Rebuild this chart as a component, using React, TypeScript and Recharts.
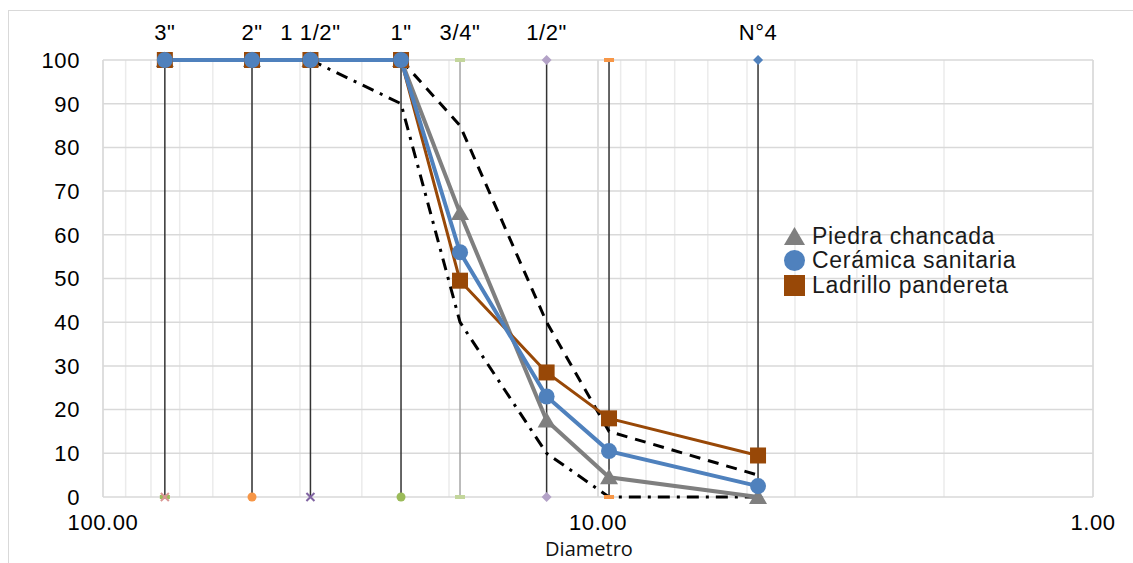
import React from 'react';
import { ComposedChart, Line, XAxis, YAxis, CartesianGrid, ReferenceLine } from 'recharts';

document.body.style.margin = '0';

// tamices (mm)
const sieveNames = ['3"', '2"', '1 1/2"', '1"', '3/4"', '1/2"', '', 'N°4'];
const sieveSizes = [75, 50, 38.1, 25, 19, 12.7, 9.5, 4.75];

// % que pasa
const piedra = [100, 100, 100, 100, 65, 17.5, 4.5, 0];
const ceramica = [100, 100, 100, 100, 56, 23, 10.5, 2.5];
const ladrillo = [100, 100, 100, 100, 49.5, 28.5, 18, 9.5];

// huso granulometrico
const upperSizes = [25, 19, 12.7, 9.5, 4.75];
const upperLimit = [100, 85, 40, 15, 5];
const lowerSizes = [38.1, 25, 19, 12.7, 9.5, 4.75];
const lowerLimit = [100, 90, 40, 10, 0, 0];

const xTicks = [100, 90, 80, 70, 60, 50, 40, 30, 20, 10, 9, 8, 7, 6, 5, 4, 3, 2, 1];
const majorX = [100, 10, 1];
const yTicks = [0, 10, 20, 30, 40, 50, 60, 70, 80, 90, 100];

const COLORS = {
  piedra: '#7f7f7f',
  ceramica: '#4f81bd',
  ladrillo: '#984807',
  grid: '#d9d9d9',
  minor: '#ebebeb',
  text: '#000000',
};

const FONT = '"Liberation Sans", Arial, sans-serif';

// small markers at ends of each sieve line [top, bottom]
const sieveMarks: { top: string[]; bottom: string[]; color: string[]; stroke: string }[] = [
  { top: ['dash'], bottom: ['dash', 'x'], color: ['#9bbb59', '#d99694'], stroke: '#333333' },
  { top: [], bottom: ['circle'], color: ['#f79646'], stroke: '#333333' },
  { top: [], bottom: ['x'], color: ['#8064a2'], stroke: '#333333' },
  { top: [], bottom: ['circle'], color: ['#9bbb59'], stroke: '#333333' },
  { top: ['dash'], bottom: ['dash'], color: ['#c3d69b'], stroke: '#a6a6a6' },
  { top: ['diamond'], bottom: ['diamond'], color: ['#b3a2c7'], stroke: '#333333' },
  { top: ['dash'], bottom: ['dash'], color: ['#f79646'], stroke: '#333333' },
  { top: ['diamond'], bottom: ['diamond'], color: ['#4f81bd'], stroke: '#333333' },
];

const toPoints = (xs: number[], ys: number[]) => xs.map((d, i) => ({ d, v: ys[i] }));

const smallMark = (type: string, color: string, cx: number, cy: number, key: string) => {
  if (type === 'dash') return <rect key={key} x={cx - 5} y={cy - 2} width={10} height={4} fill={color} />;
  if (type === 'circle') return <circle key={key} cx={cx} cy={cy} r={4.5} fill={color} />;
  if (type === 'diamond') return <path key={key} d={`M${cx},${cy - 5}L${cx + 5},${cy}L${cx},${cy + 5}L${cx - 5},${cy}Z`} fill={color} />;
  return (
    <path key={key} d={`M${cx - 4},${cy - 4}L${cx + 4},${cy + 4}M${cx + 4},${cy - 4}L${cx - 4},${cy + 4}`} stroke={color} strokeWidth={2} />
  );
};

const triangle = (p: any) => (
  <path key={`t-${p.index}`} d={`M${p.cx},${p.cy - 8.5}L${p.cx + 9},${p.cy + 7}L${p.cx - 9},${p.cy + 7}Z`} fill={COLORS.piedra} />
);
const circle = (p: any) => <circle key={`c-${p.index}`} cx={p.cx} cy={p.cy} r={8} fill={COLORS.ceramica} />;
const square = (p: any) => (
  <rect key={`s-${p.index}`} x={p.cx - 8} y={p.cy - 8} width={16} height={16} fill={COLORS.ladrillo} />
);

const legendItems = [
  { name: 'Piedra chancada', color: COLORS.piedra, shape: 'triangle' },
  { name: 'Cerámica sanitaria', color: COLORS.ceramica, shape: 'circle' },
  { name: 'Ladrillo pandereta', color: COLORS.ladrillo, shape: 'square' },
];

const LegendBox = () => (
  <div style={{ position: 'absolute', left: 775, top: 213, fontFamily: FONT, fontSize: 23, letterSpacing: 0.7, color: '#1a1a1a' }}>
    {legendItems.map((it) => (
      <div key={it.name} style={{ display: 'flex', alignItems: 'center', height: 24.5 }}>
        <svg width={21} height={21} style={{ marginRight: 7 }}>
          {it.shape === 'triangle' && <path d="M10.5,1L21,19L0,19Z" fill={it.color} />}
          {it.shape === 'circle' && <circle cx={10.5} cy={10.5} r={10.5} fill={it.color} />}
          {it.shape === 'square' && <rect x={0} y={0} width={21} height={21} fill={it.color} />}
        </svg>
        <span>{it.name}</span>
      </div>
    ))}
  </div>
);

export default function App() {
  return (
    <div style={{ width: 1133, height: 563, overflow: 'hidden', position: 'relative', background: '#fff' }}>
      <div
        style={{
          position: 'absolute',
          left: 8,
          top: 10,
          width: 1125,
          height: 570,
          border: '1px solid #d9d9d9',
          borderRight: 'none',
          boxSizing: 'border-box',
        }}
      >
        <ComposedChart width={1124} height={552} margin={{ top: 49, right: 40, bottom: 0, left: 0 }}>
          <CartesianGrid horizontal={false} stroke={COLORS.minor} strokeWidth={1.5} />
          <CartesianGrid vertical={false} stroke={COLORS.grid} strokeWidth={1.5} />
          <XAxis
            type="number"
            dataKey="d"
            scale="log"
            domain={[1, 100]}
            reversed
            ticks={xTicks}
            interval={0}
            allowDataOverflow
            axisLine={false}
            tickLine={false}
            tickSize={0}
            tickMargin={17}
            height={66}
            tick={{ fontFamily: FONT, fontSize: 22, fill: COLORS.text, letterSpacing: 0.6 }}
            tickFormatter={(v: number) => (majorX.includes(v) ? v.toFixed(2) : '')}
            label={{
              content: (p: any) => (
                <text
                  x={p.viewBox.x + p.viewBox.width / 2 - 9}
                  y={p.viewBox.y + 59}
                  textAnchor="middle"
                  fontFamily='"Open Sans", sans-serif'
                  fontSize={20}
                  fill="#111"
                >
                  Diametro
                </text>
              ),
            }}
          />
          <YAxis
            type="number"
            dataKey="v"
            domain={[0, 100]}
            ticks={yTicks}
            interval={0}
            width={94}
            axisLine={false}
            tickLine={false}
            tickSize={0}
            tickMargin={23}
            tick={{ fontFamily: FONT, fontSize: 22, fill: COLORS.text, letterSpacing: 0.6 }}
          />
          {majorX.map((v) => (
            <ReferenceLine key={`mx-${v}`} x={v} stroke={COLORS.grid} strokeWidth={1.5} />
          ))}

          {sieveSizes.map((s, i) => (
            <Line
              key={`sieve-${i}`}
              data={toPoints([s, s], [0, 100])}
              dataKey="v"
              stroke={sieveMarks[i].stroke}
              strokeWidth={1.5}
              isAnimationActive={false}
              activeDot={false}
              legendType="none"
              dot={(p: any) => {
                const m = sieveMarks[i];
                const types = p.index === 1 ? m.top : m.bottom;
                return (
                  <g key={`sm-${i}-${p.index}`}>
                    {types.map((t, j) => smallMark(t, m.color[j % m.color.length], p.cx, p.cy, `${i}-${p.index}-${j}`))}
                  </g>
                );
              }}
              label={(p: any) =>
                p.index === 1 && sieveNames[i] ? (
                  <text
                    key={`lbl-${i}`}
                    x={p.x}
                    y={p.y - 20}
                    textAnchor="middle"
                    fontFamily={FONT}
                    fontSize={22}
                    letterSpacing={0.6}
                    fill={COLORS.text}
                  >
                    {sieveNames[i]}
                  </text>
                ) : (
                  <g key={`lbl-${i}-${p.index}`} />
                )
              }
            />
          ))}

          <Line
            data={toPoints(upperSizes, upperLimit)}
            dataKey="v"
            stroke="#000"
            strokeWidth={3}
            strokeDasharray="11 8"
            dot={false}
            activeDot={false}
            isAnimationActive={false}
          />
          <Line
            data={toPoints(lowerSizes, lowerLimit)}
            dataKey="v"
            stroke="#000"
            strokeWidth={3}
            strokeDasharray="12 7 3 7"
            dot={false}
            activeDot={false}
            isAnimationActive={false}
          />

          <Line
            data={toPoints(sieveSizes, piedra)}
            dataKey="v"
            name="Piedra chancada"
            stroke={COLORS.piedra}
            strokeWidth={4}
            dot={triangle}
            activeDot={false}
            isAnimationActive={false}
          />
          <Line
            data={toPoints(sieveSizes, ladrillo)}
            dataKey="v"
            name="Ladrillo pandereta"
            stroke={COLORS.ladrillo}
            strokeWidth={3}
            dot={square}
            activeDot={false}
            isAnimationActive={false}
          />
          <Line
            data={toPoints(sieveSizes, ceramica)}
            dataKey="v"
            name="Cerámica sanitaria"
            stroke={COLORS.ceramica}
            strokeWidth={4}
            dot={circle}
            activeDot={false}
            isAnimationActive={false}
          />
        </ComposedChart>
        <LegendBox />
      </div>
    </div>
  );
}
